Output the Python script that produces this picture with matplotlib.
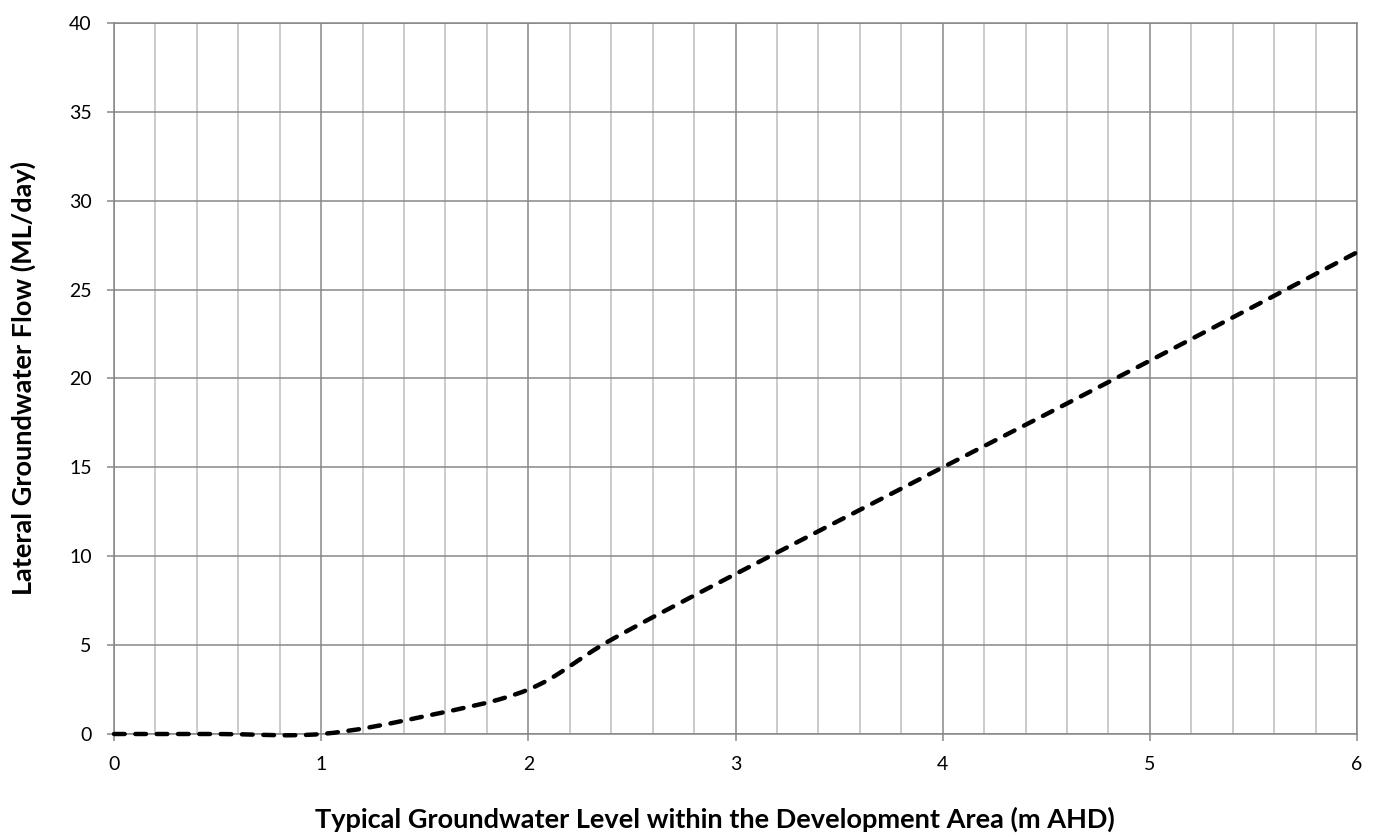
import numpy as np
import matplotlib
matplotlib.use("Agg")
import matplotlib.pyplot as plt
from matplotlib.path import Path
from matplotlib.patches import PathPatch
from matplotlib.ticker import MultipleLocator

# Groundwater level (m AHD) vs lateral groundwater flow (ML/day)
level = [0.0, 0.5, 1.0, 1.5, 2.0, 2.4, 3.0, 4.0, 5.0, 6.0]
flow = [0.0, 0.0, 0.0, 1.0, 2.5, 5.3, 9.0, 15.0, 21.0, 27.1]

x_label = "Typical Groundwater Level within the Development Area (m AHD)"
y_label = "Lateral Groundwater Flow (ML/day)"

plt.rcParams["font.family"] = ["Lato", "DejaVu Sans"]

W, H = 1375, 839
fig = plt.figure(figsize=(W / 100, H / 100), dpi=100)
ax = fig.add_axes([114 / W, (H - 734) / H, (1357 - 114) / W, (734 - 23) / H])

major_c = "#878787"
minor_c = "#bdbdbd"

ax.set_xlim(0, 6)
ax.set_ylim(0, 40)
ax.xaxis.set_major_locator(MultipleLocator(1))
ax.xaxis.set_minor_locator(MultipleLocator(0.2))
ax.yaxis.set_major_locator(MultipleLocator(5))

ax.grid(which="major", axis="both", color=major_c, linewidth=1.1)
ax.grid(which="minor", axis="x", color=minor_c, linewidth=1.1)
ax.set_axisbelow(True)

for s in ax.spines.values():
    s.set_color(major_c)
    s.set_linewidth(1.1)

ax.tick_params(which="major", direction="out", length=5, width=1.1, color=major_c,
               labelsize=14)
ax.tick_params(axis="x", pad=11)
ax.tick_params(axis="y", pad=11)
ax.tick_params(which="minor", length=0)

# Smoothed curve through the data points (cubic Bezier segments)
pts = np.column_stack([level, flow])
n = len(pts)
verts = [tuple(pts[0])]
codes = [Path.MOVETO]
for i in range(n - 1):
    p0 = pts[i - 1] if i > 0 else pts[i]
    p1 = pts[i]
    p2 = pts[i + 1]
    p3 = pts[i + 2] if i + 2 < n else pts[i + 1]
    c1 = p1 + (p2 - p0) / 6.0
    c2 = p2 - (p3 - p1) / 6.0
    verts += [tuple(c1), tuple(c2), tuple(p2)]
    codes += [Path.CURVE4] * 3
curve = PathPatch(Path(verts, codes), facecolor="none", edgecolor="black",
                  linewidth=3.2, linestyle=(0, (2.4, 2.4)), capstyle="round",
                  clip_on=False, zorder=3)
ax.add_patch(curve)

# Axis titles
fig.text(715 / W, (H - 828) / H, x_label, fontsize=19.5, fontweight="bold",
         ha="center", va="baseline", rotation_mode="anchor")
fig.text(32 / W, (H - 378) / H, y_label, fontsize=19.5, fontweight="bold",
         ha="center", va="baseline", rotation=90, rotation_mode="anchor")

fig.savefig("out.png", dpi=100, facecolor="white")
